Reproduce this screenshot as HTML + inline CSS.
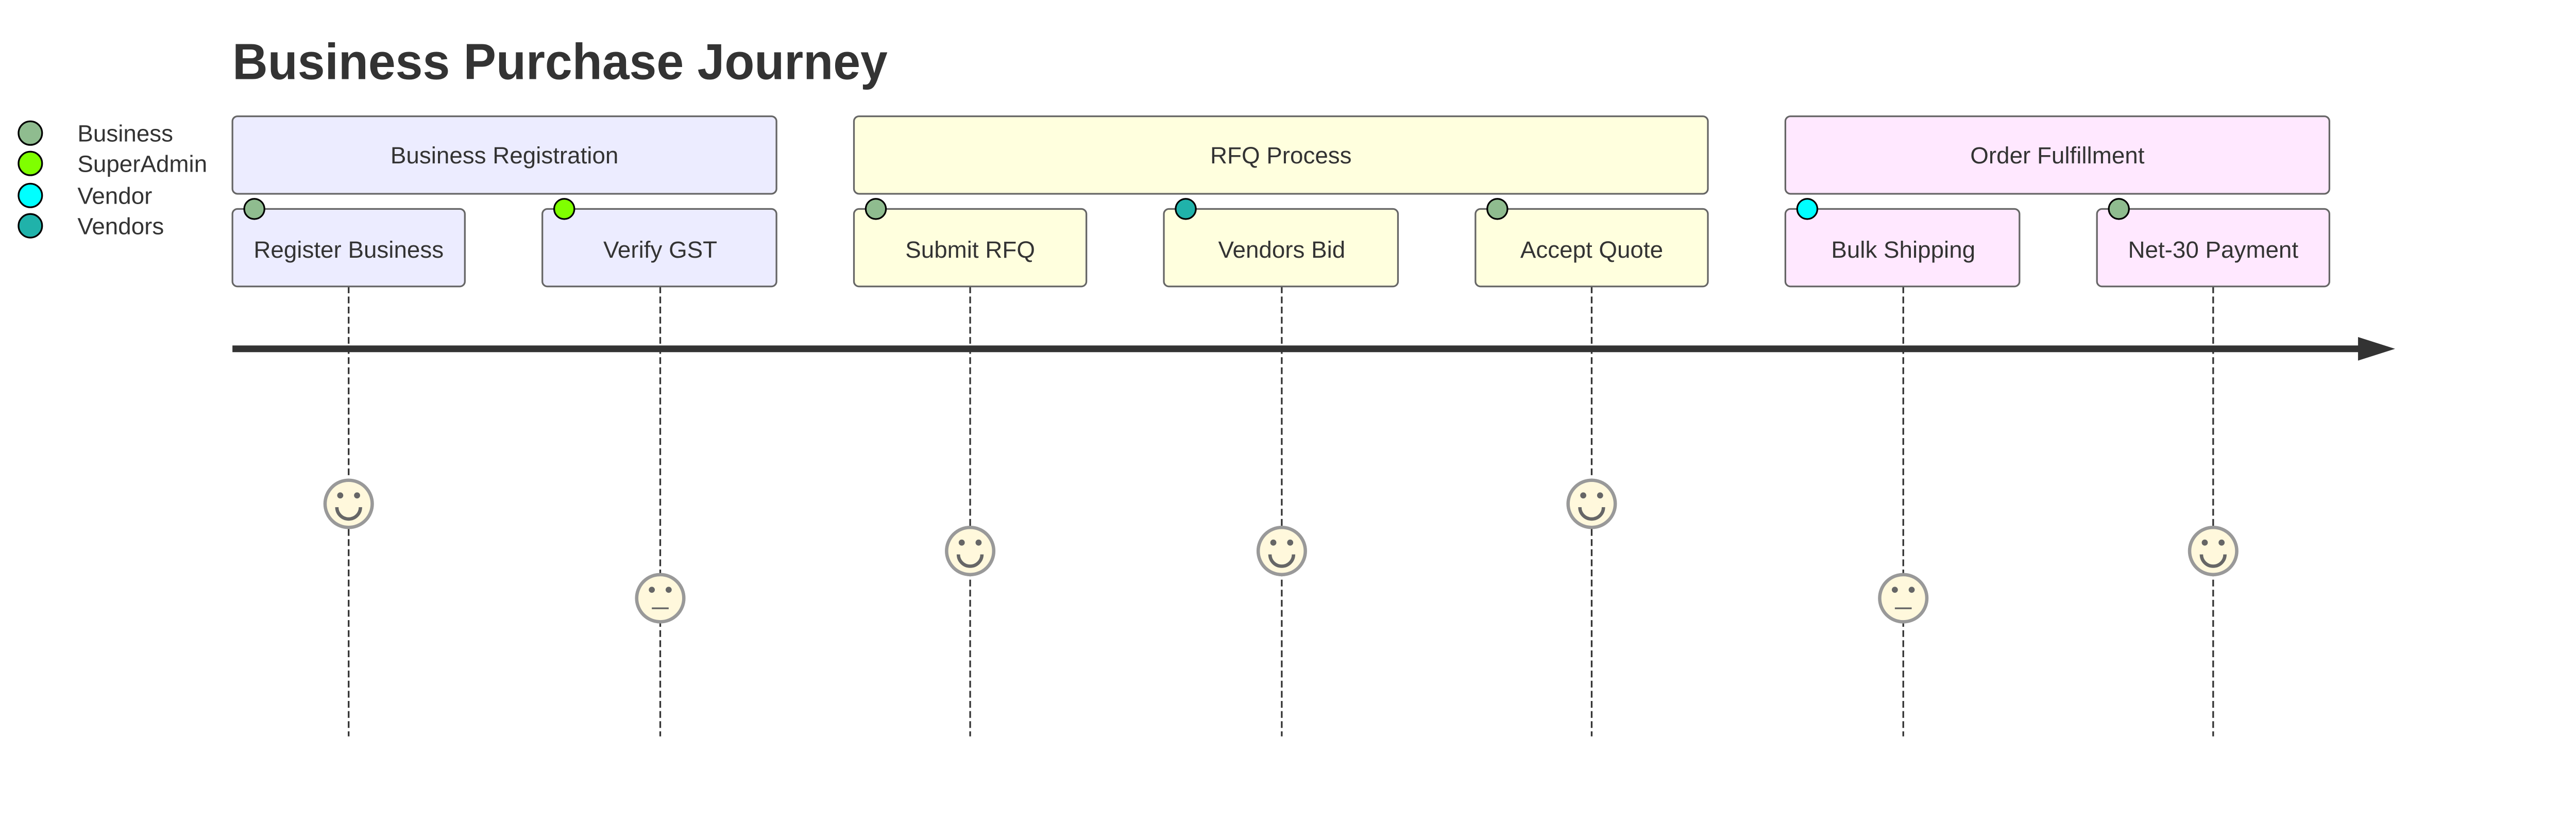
<!DOCTYPE html>
<html><head><meta charset="utf-8"><style>
html,body{margin:0;padding:0;background:#fff;}
svg{display:block;}
text{font-family:"Liberation Sans",sans-serif;fill:#333;}
</style></head><body>
<svg width="5100" height="1620" viewBox="0 0 1560 495.53" xmlns="http://www.w3.org/2000/svg">
<rect x="0" y="0" width="1560" height="496" fill="#fff"/>
<text x="138" y="47" font-size="30" font-weight="bold" textLength="389" lengthAdjust="spacingAndGlyphs">Business Purchase Journey</text>
<!-- legend -->
<g stroke="#000" stroke-width="1">
<circle cx="18" cy="79" r="7" fill="#8FBC8F"/>
<circle cx="18" cy="97" r="7" fill="#7FFF00"/>
<circle cx="18" cy="116" r="7" fill="#00FFFF"/>
<circle cx="18" cy="134" r="7" fill="#20B2AA"/>
</g>
<g font-size="14">
<text x="46" y="84">Business</text>
<text x="46" y="102">SuperAdmin</text>
<text x="46" y="121">Vendor</text>
<text x="46" y="139">Vendors</text>
</g>
<!-- dashed lines -->
<g stroke="#333" stroke-width="1" stroke-dasharray="4,2">
<line x1="207" y1="170" x2="207" y2="437"/>
<line x1="392" y1="170" x2="392" y2="437"/>
<line x1="576" y1="170" x2="576" y2="437"/>
<line x1="761" y1="170" x2="761" y2="437"/>
<line x1="945" y1="170" x2="945" y2="437"/>
<line x1="1130" y1="170" x2="1130" y2="437"/>
<line x1="1314" y1="170" x2="1314" y2="437"/>
</g>
<!-- sections -->
<g stroke="#666" stroke-width="1">
<rect x="138" y="69" width="323" height="46" rx="3" fill="#ECECFF"/>
<rect x="507" y="69" width="507" height="46" rx="3" fill="#FFFFDE"/>
<rect x="1060" y="69" width="323" height="46" rx="3" fill="#FFE8FF"/>
<rect x="138" y="124" width="138" height="46" rx="3" fill="#ECECFF"/>
<rect x="322" y="124" width="139" height="46" rx="3" fill="#ECECFF"/>
<rect x="507" y="124" width="138" height="46" rx="3" fill="#FFFFDE"/>
<rect x="691" y="124" width="139" height="46" rx="3" fill="#FFFFDE"/>
<rect x="876" y="124" width="138" height="46" rx="3" fill="#FFFFDE"/>
<rect x="1060" y="124" width="139" height="46" rx="3" fill="#FFE8FF"/>
<rect x="1245" y="124" width="138" height="46" rx="3" fill="#FFE8FF"/>
</g>
<g font-size="14" text-anchor="middle">
<text x="299.5" y="97">Business Registration</text>
<text x="760.5" y="97">RFQ Process</text>
<text x="1221.5" y="97">Order Fulfillment</text>
<text x="207" y="153">Register Business</text>
<text x="392" y="153">Verify GST</text>
<text x="576" y="153">Submit RFQ</text>
<text x="761" y="153">Vendors Bid</text>
<text x="945" y="153">Accept Quote</text>
<text x="1130" y="153">Bulk Shipping</text>
<text x="1314" y="153">Net-30 Payment</text>
</g>
<g stroke="#000" stroke-width="1">
<circle cx="151" cy="124" r="6" fill="#8FBC8F"/>
<circle cx="335" cy="124" r="6" fill="#7FFF00"/>
<circle cx="520" cy="124" r="6" fill="#8FBC8F"/>
<circle cx="704" cy="124" r="6" fill="#20B2AA"/>
<circle cx="889" cy="124" r="6" fill="#8FBC8F"/>
<circle cx="1073" cy="124" r="6" fill="#00FFFF"/>
<circle cx="1258" cy="124" r="6" fill="#8FBC8F"/>
</g>
<!-- axis -->
<line x1="138" y1="207" x2="1402" y2="207" stroke="#333" stroke-width="4"/>
<polygon points="1400,200 1422,207 1400,214" fill="#333"/>
<!-- faces -->
<defs>
<g id="happy">
<circle r="14" fill="#FFF8DC" stroke="#999" stroke-width="2"/>
<circle cx="-5" cy="-5" r="1.8" fill="#666"/>
<circle cx="5" cy="-5" r="1.8" fill="#666"/>
<path d="M-7,2 A7,7 0 0 0 7,2" fill="none" stroke="#666" stroke-width="2"/>
</g>
<g id="neutral">
<circle r="14" fill="#FFF8DC" stroke="#999" stroke-width="2"/>
<circle cx="-5" cy="-5" r="1.8" fill="#666"/>
<circle cx="5" cy="-5" r="1.8" fill="#666"/>
<line x1="-5" y1="6" x2="5" y2="6" stroke="#666" stroke-width="1"/>
</g>
</defs>
<use href="#happy" x="207" y="299"/>
<use href="#neutral" x="392" y="355"/>
<use href="#happy" x="576" y="327"/>
<use href="#happy" x="761" y="327"/>
<use href="#happy" x="945" y="299"/>
<use href="#neutral" x="1130" y="355"/>
<use href="#happy" x="1314" y="327"/>
</svg>
</body></html>
